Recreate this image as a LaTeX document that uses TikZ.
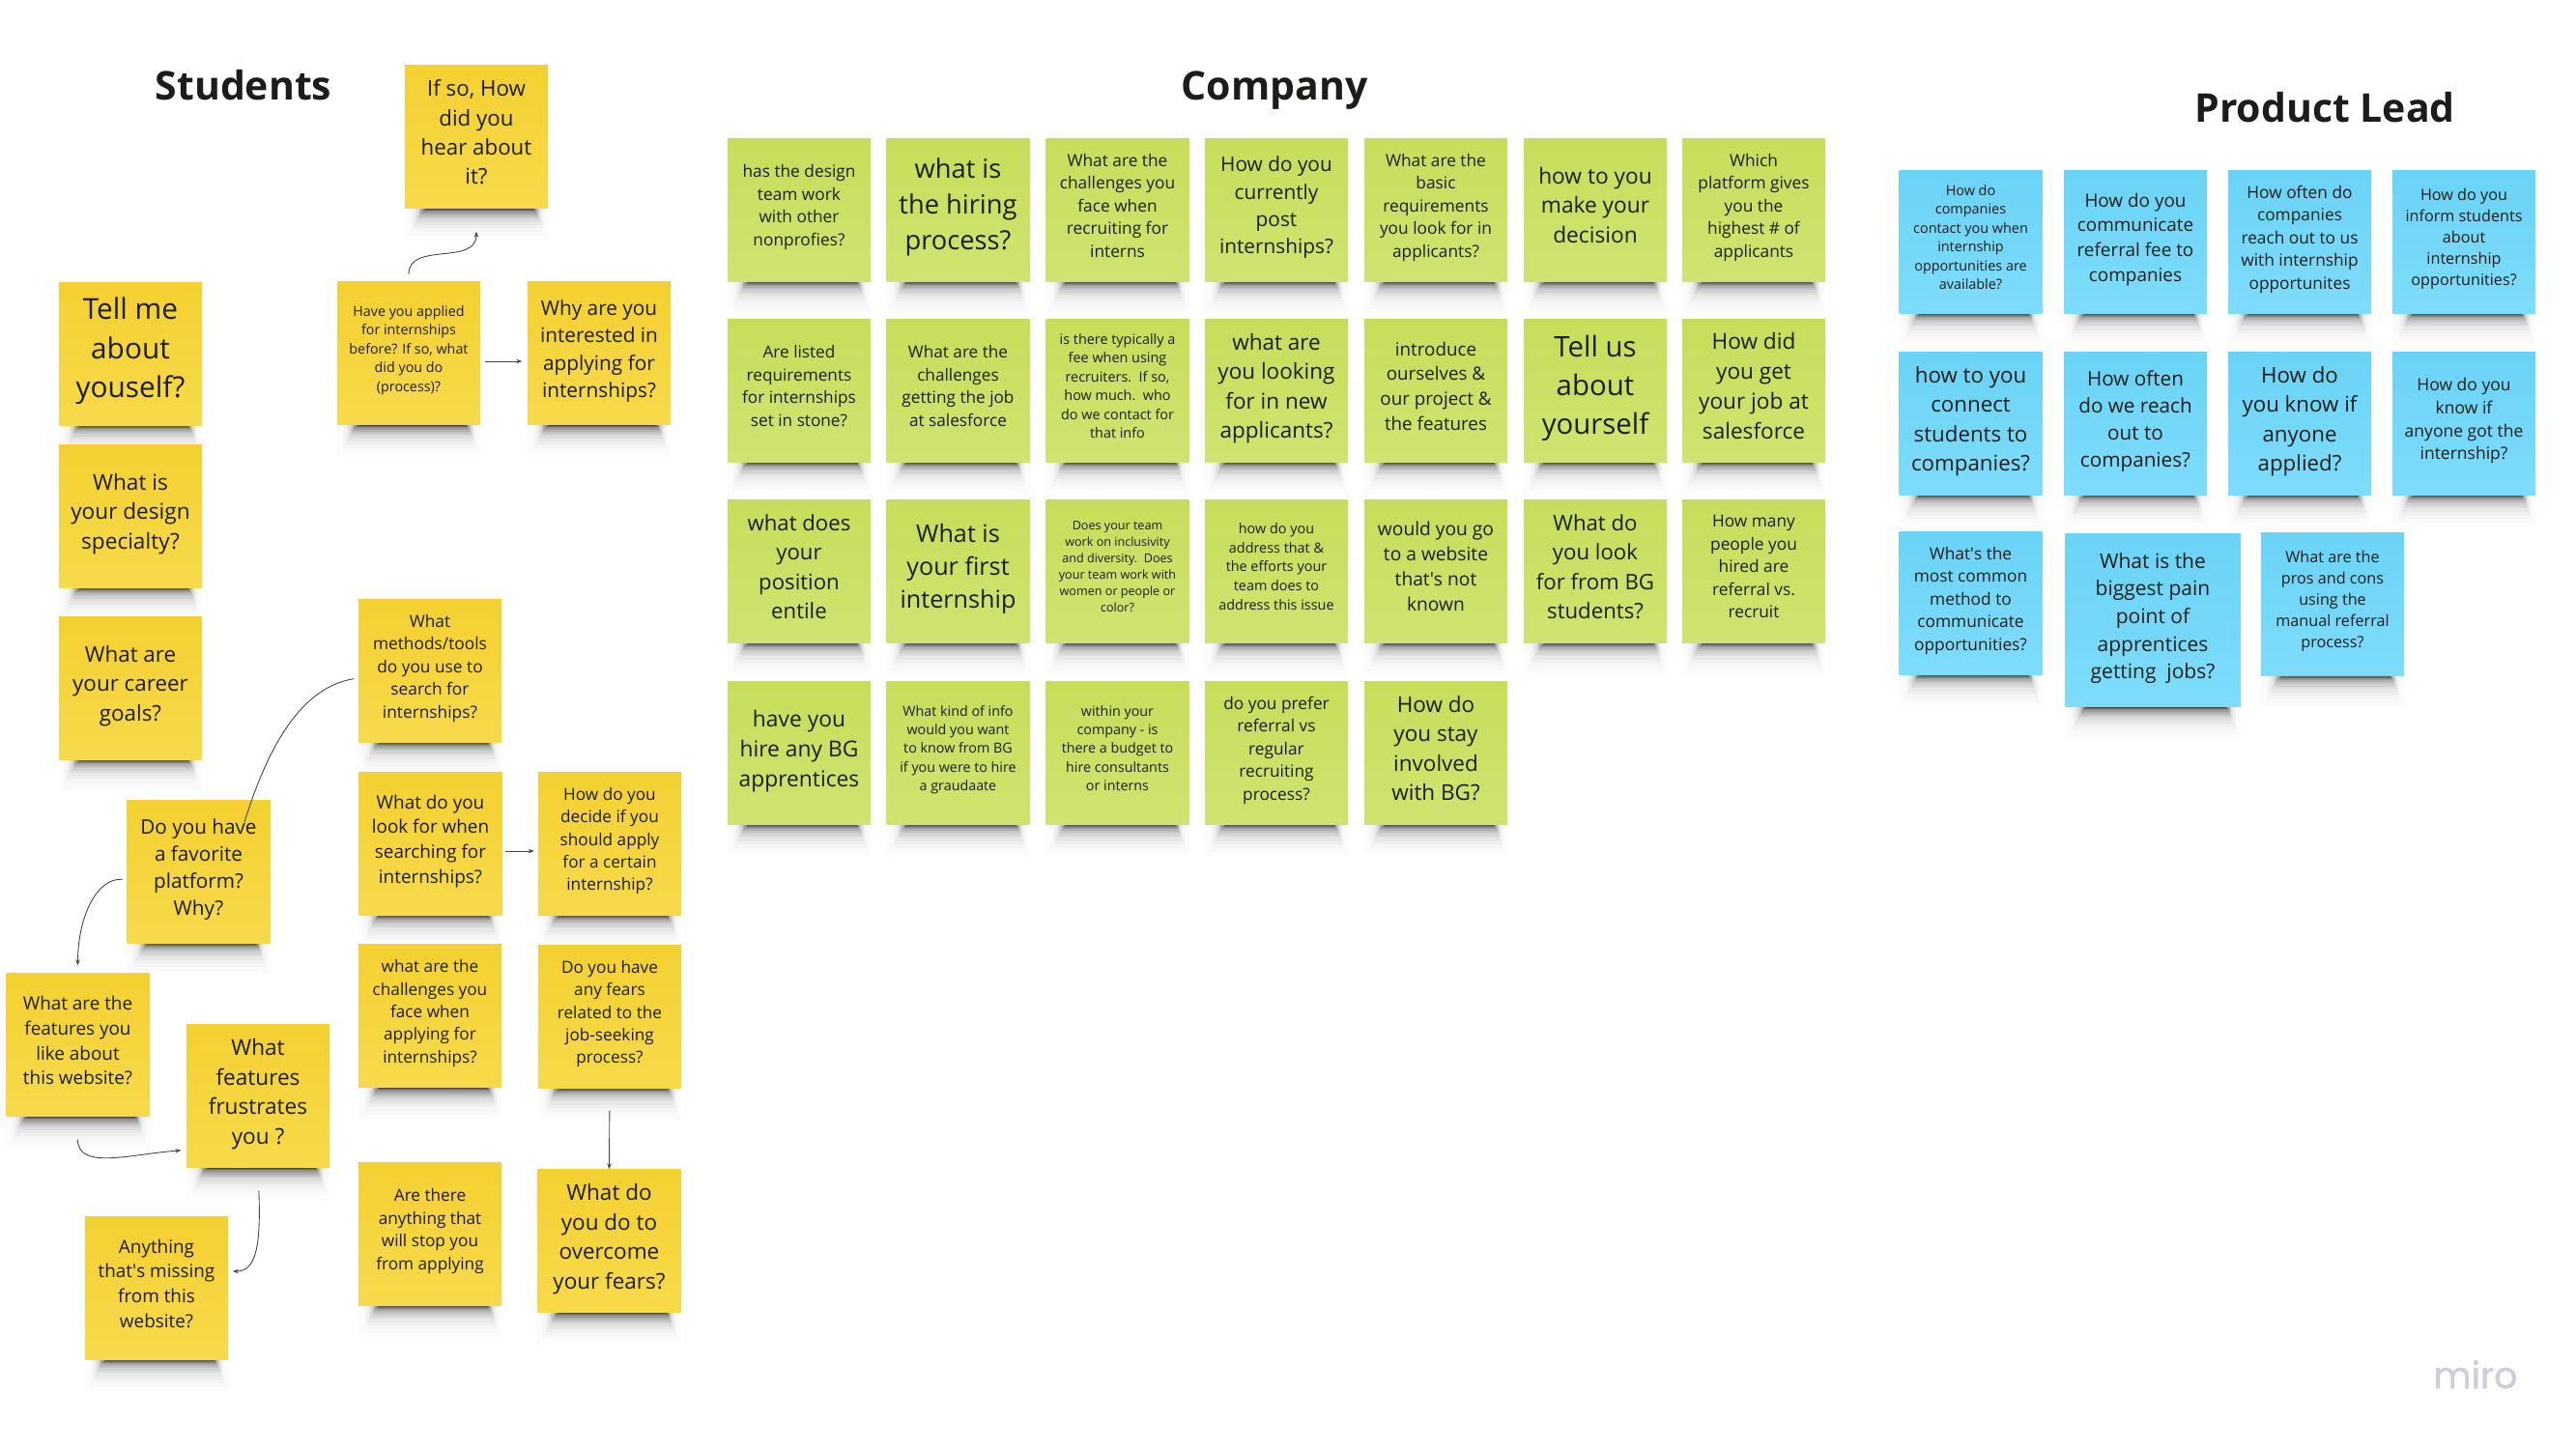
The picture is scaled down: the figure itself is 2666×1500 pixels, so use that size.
\documentclass[tikz,border=0pt]{standalone}
\usepackage{fontspec}
\setmainfont{Open Sans}
\newfontfamily\logofont[FakeBold=1.2]{Poppins}
\usetikzlibrary{arrows.meta,backgrounds}

\definecolor{yellowtop}{RGB}{244,208,48}
\definecolor{yellowbot}{RGB}{247,218,76}
\definecolor{greentop}{RGB}{199,221,90}
\definecolor{greenbot}{RGB}{207,228,112}
\definecolor{bluetop}{RGB}{106,211,246}
\definecolor{bluebot}{RGB}{126,220,251}
\definecolor{inktext}{RGB}{28,28,24}
\definecolor{linkgrey}{RGB}{70,70,70}
\definecolor{logogrey}{RGB}{205,206,219}

\tikzset{
	note/.style={inner sep=0pt,minimum width=148pt,minimum height=148pt,align=center,text=inktext,
		execute at begin node={\strut},execute at end node={\strut\rule[-9pt]{0pt}{0pt}}},
	ynote/.style={note,top color=yellowtop,bottom color=yellowbot},
	gnote/.style={note,top color=greentop,bottom color=greenbot},
	bnote/.style={note,top color=bluetop,bottom color=bluebot},
	txt/.style={font=\fontsize{#1}{\fpeval{1.36*#1}}\selectfont},
	headline/.style={anchor=base,text=inktext,font=\fontsize{41}{50}\selectfont\bfseries},
	link/.style={draw=linkgrey,line width=0.9pt,-{Stealth[length=6pt,width=4.5pt]}},
	plainlink/.style={draw=linkgrey,line width=0.9pt},
}

\newcommand{\allnotes}{ifso,tellme,specialty,career,applied,whyapply,methods,favorite,lookfor,decide,challenges,fears,stopyou,overcome,likeabout,frustrates,missing,%
	designteam,hiring,recruiting,postintern,basicreq,makedecision,whichplatform,listedreq,gettingjob,recruiterfee,newapplicants,introduce,tellus,yourjob,%
	positionentile,firstintern,diversity,addressissue,website,frombg,hiredreferral,hirebg,kindinfo,budget,preferreferral,stayinvolved,%
	contactyou,referralfee,reachout,informstudents,connectstudents,oftenreach,anyoneapplied,gotintern,commonmethod,painpoint,proscons}

\begin{document}
\begin{tikzpicture}[x=1pt,y=-1pt]
	\useasboundingbox (0,0) rectangle (2666,1500);

	%% titles
	\node [headline] (students) at (252,103) {Students};
	\node [headline] (company) at (1319,103) {Company};
	\node [headline] (productlead) at (2406,126) {Product Lead};

	%% students
	\node [ynote,txt=22.3] (ifso) at (493,141.5) {If so, How\\did you\\hear about\\it?};
	\node [ynote,txt=29.8] (tellme) at (135,366) {Tell me\\about\\youself?};
	\node [ynote,txt=22.6] (specialty) at (135,534) {What is\\your design\\specialty?};
	\node [ynote,txt=22.4] (career) at (135,712) {What are\\your career\\goals?};
	\node [ynote,txt=14.3] (applied) at (423,365.5) {Have you applied\\for internships\\before? If so, what\\did you do\\(process)?};
	\node [ynote,txt=20.8] (whyapply) at (620,365.5) {Why are you\\interested in\\applying for\\internships?};
	\node [ynote,txt=17.3] (methods) at (445,694) {What\\methods/tools\\do you use to\\search for\\internships?};
	\node [ynote,txt=20.7] (favorite) at (205.5,902) {Do you have\\a favorite\\platform?\\Why?};
	\node [ynote,txt=18.9] (lookfor) at (445.5,873) {What do you\\look for when\\searching for\\internships?};
	\node [ynote,txt=17.2] (decide) at (631,873) {How do you\\decide if you\\should apply\\for a certain\\internship?};
	\node [ynote,txt=17.2] (challenges) at (445,1051.5) {what are the\\challenges you\\face when\\applying for\\internships?};
	\node [ynote,txt=17.2] (fears) at (631,1052) {Do you have\\any fears\\related to the\\job-seeking\\process?};
	\node [ynote,txt=17.2] (stopyou) at (445,1277) {Are there\\anything that\\will stop you\\from applying};
	\node [ynote,txt=22.5] (overcome) at (630.5,1284.5) {What do\\you do to\\overcome\\your fears?};
	\node [ynote,txt=18.9] (likeabout) at (80.5,1081.5) {What are the\\features you\\like about\\this website?};
	\node [ynote,txt=22.6] (frustrates) at (267,1134.5) {What\\features\\frustrates\\you ?};
	\node [ynote,txt=18.9] (missing) at (162,1333) {Anything\\that\textquotesingle s missing\\from this\\website?};

	%% company
	\node [gnote,txt=17.3] (designteam) at (827,217) {has the design\\team work\\with other\\nonprofies?};
	\node [gnote,txt=27.3] (hiring) at (991.5,217) {what is\\the hiring\\process?};
	\node [gnote,txt=17.3] (recruiting) at (1156.5,217) {What are the\\challenges you\\face when\\recruiting for\\interns};
	\node [gnote,txt=20.8] (postintern) at (1321,217) {How do you\\currently\\post\\internships?};
	\node [gnote,txt=17.3] (basicreq) at (1486,217) {What are the\\basic\\requirements\\you look for in\\applicants?};
	\node [gnote,txt=22.7] (makedecision) at (1651,217) {how to you\\make your\\decision};
	\node [gnote,txt=17.3] (whichplatform) at (1815,217) {Which\\platform gives\\you the\\highest \# of\\applicants};

	\node [gnote,txt=17.2] (listedreq) at (827,404) {Are listed\\requirements\\for internships\\set in stone?};
	\node [gnote,txt=17.2] (gettingjob) at (991.5,404) {What are the\\challenges\\getting the job\\at salesforce};
	\node [gnote,txt=14.4] (recruiterfee) at (1156.5,404) {is there typically a\\fee when using\\recruiters.\ \ If so,\\how much.\ \ who\\do we contact for\\that info};
	\node [gnote,txt=22.5] (newapplicants) at (1321,404) {what are\\you looking\\for in new\\applicants?};
	\node [gnote,txt=18.8] (introduce) at (1486,404) {introduce\\ourselves \&\\our project \&\\the features};
	\node [gnote,txt=29.4] (tellus) at (1651,404) {Tell us\\about\\yourself};
	\node [gnote,txt=22.6] (yourjob) at (1815,404) {How did\\you get\\your job at\\salesforce};

	\node [gnote,txt=22.2] (positionentile) at (827,591) {what does\\your\\position\\entile};
	\node [gnote,txt=25.2] (firstintern) at (991.5,591) {What is\\your first\\internship};
	\node [gnote,txt=12.6] (diversity) at (1156.5,591) {Does your team\\work on inclusivity\\and diversity.\ \ Does\\your team work with\\women or people or\\color?};
	\node [gnote,txt=14.4] (addressissue) at (1321,591) {how do you\\address that \&\\the efforts your\\team does to\\address this issue};
	\node [gnote,txt=19.2] (website) at (1486,591) {would you go\\to a website\\that\textquotesingle s not\\known};
	\node [gnote,txt=22.2] (frombg) at (1651,591) {What do\\you look\\for from BG\\students?};
	\node [gnote,txt=17.3] (hiredreferral) at (1815,591) {How many\\people you\\hired are\\referral vs.\\recruit};

	\node [gnote,txt=22.8] (hirebg) at (827,779) {have you\\hire any BG\\apprentices};
	\node [gnote,txt=14.3] (kindinfo) at (991.5,779) {What kind of info\\would you want\\to know from BG\\if you were to hire\\a graudaate};
	\node [gnote,txt=14.3] (budget) at (1156.5,779) {within your\\company - is\\there a budget to\\hire consultants\\or interns};
	\node [gnote,txt=17.3] (preferreferral) at (1321,779) {do you prefer\\referral vs\\regular\\recruiting\\process?};
	\node [gnote,txt=22.5] (stayinvolved) at (1486,779) {How do\\you stay\\involved\\with BG?};

	%% product lead
	\node [bnote,txt=14.4] (contactyou) at (2039.5,250) {How do\\companies\\contact you when\\internship\\opportunities are\\available?};
	\node [bnote,txt=18.9] (referralfee) at (2210,250) {How do you\\communicate\\referral fee to\\companies};
	\node [bnote,txt=17.3] (reachout) at (2380,250) {How often do\\companies\\reach out to us\\with internship\\opportunites};
	\node [bnote,txt=16.2] (informstudents) at (2550,250) {How do you\\inform students\\about\\internship\\opportunities?};

	\node [bnote,txt=22.3] (connectstudents) at (2039.5,438) {how to you\\connect\\students to\\companies?};
	\node [bnote,txt=20.7] (oftenreach) at (2210,438) {How often\\do we reach\\out to\\companies?};
	\node [bnote,txt=22.3] (anyoneapplied) at (2380,438) {How do\\you know if\\anyone\\applied?};
	\node [bnote,txt=17.5] (gotintern) at (2550,438) {How do you\\know if\\anyone got the\\internship?};

	\node [bnote,txt=17.3] (commonmethod) at (2039.5,624) {What\textquotesingle s the\\most common\\method to\\communicate\\opportunities?};
	\node [bnote,txt=21,minimum width=181pt,minimum height=179pt] (painpoint) at (2228,642) {What is the\\biggest pain\\point of\\apprentices\\getting\ \ jobs?};
	\node [bnote,txt=16.2] (proscons) at (2414,625) {What are the\\pros and cons\\using the\\manual referral\\process?};

	%% note shadows
	\begin{scope}[on background layer]
		\foreach \n in \allnotes {
			\foreach \k in {0,...,13} {
				\pgfmathsetmacro{\deep}{32*(1-\k/14)^2+1}
				\pgfmathsetmacro{\inl}{22*(\k/13)^0.6}
				\pgfmathsetmacro{\inr}{15*(\k/13)^0.6}
				\pgfmathsetmacro{\op}{0.01+0.22*(\k/13)^2}
				\fill [black,opacity=\op] ([xshift=\inl pt,yshift=2pt]\n.south west) rectangle ([xshift=-\inr pt,yshift=-\deep pt]\n.south east);
			}
		}
	\end{scope}

	%% connectors
	\draw [link,shorten <=7.5pt,shorten >=24pt] (applied.north) .. controls +(0,-41.5) and +(0,59.5) .. (ifso.south);
	\draw [link,shorten <=4.5pt,shorten >=5.5pt] ([yshift=-8.5pt]applied.east) -- ([yshift=-8.5pt]whyapply.west);
	\coordinate (favoritehit) at (253,851);
	\draw [plainlink,shorten <=4.5pt] ([yshift=-8pt]methods.west) .. controls +(-66,10) and +(19,-61) .. (favoritehit);
	\draw [link,shorten <=4.5pt,shorten >=8pt] ([yshift=-8.5pt]favorite.west) .. controls +(-32,-2) and +(0,-57) .. (likeabout.north);
	\draw [link,shorten <=24pt,shorten >=5.5pt] (likeabout.south) .. controls +(0,56) and +(-57,4) .. ([yshift=-56pt]frustrates.west);
	\draw [link,shorten <=24.5pt,shorten >=4.7pt] (frustrates.south) .. controls +(3,81) and +(29,0) .. ([yshift=17pt]missing.east);
	\draw [link,shorten <=3.5pt,shorten >=4pt] ([yshift=-8pt]lookfor.east) -- ([yshift=-8pt]decide.west);
	\draw [link,shorten <=23.7pt] (fears.south) -- (overcome.north);

	%% logo
	\node [anchor=base,text=logogrey,font=\fontsize{38}{40}\selectfont\logofont] (miro) at (2562,1437) {miro};
\end{tikzpicture}
\end{document}
